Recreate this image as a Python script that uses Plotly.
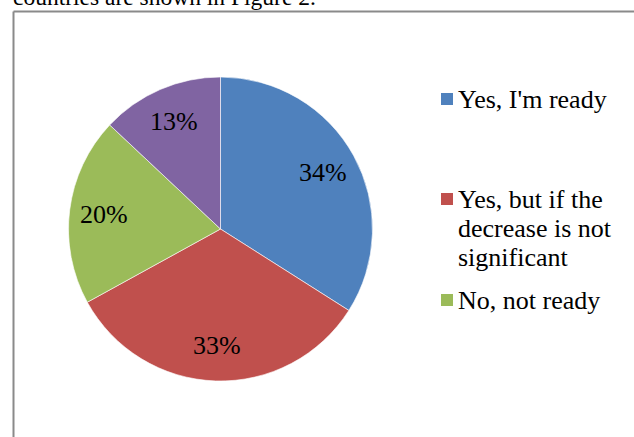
import math
import plotly.graph_objects as go

# ---- data ----
categories = ["Yes, I'm ready", "Yes, but if the decrease is not significant", "No, not ready", "Other"]
values = [34, 33, 20, 13]
colors = ["#4F81BD", "#C0504D", "#9BBB59", "#8064A2"]
legend_labels = ["Yes, I'm ready", "Yes, but if the<br>decrease is not<br>significant", "No, not ready"]
caption = "countries are shown in Figure 2."

# ---- style ----
W, H = 634, 437
FONT = "Liberation Serif, Times New Roman, serif"
FS = 26
cx, cy, r = 220.5, 229.0, 152.0
label_r = 0.77
legend_baselines = [107, 207, 308]
legend_line_gap = 29
marker_x0, marker_size = 441, 12
text_x = 457

def px_x(x):
    return x / W

def px_y(y):
    return 1 - y / H

fig = go.Figure()
fig.add_trace(go.Pie(
    labels=categories,
    values=values,
    sort=False,
    direction="clockwise",
    rotation=0,
    marker=dict(colors=colors, line=dict(color="rgba(255,255,255,0.6)", width=1)),
    textinfo="none",
    domain=dict(x=[px_x(cx - r), px_x(cx + r)], y=[px_y(cy + r), px_y(cy - r)]),
    showlegend=False,
    hoverinfo="label+percent",
))

shapes = [
    dict(type="line", xref="paper", yref="paper", x0=px_x(13.5), x1=px_x(13.5), y0=px_y(11.5), y1=px_y(H + 5),
         line=dict(color="#8a8a8a", width=2)),
    dict(type="line", xref="paper", yref="paper", x0=px_x(13.5), x1=px_x(W + 5), y0=px_y(11.5), y1=px_y(11.5),
         line=dict(color="#8a8a8a", width=2)),
]
annotations = [
    dict(text=caption, xref="paper", yref="paper", x=px_x(12), y=px_y(4 - 0.891 * 23.5),
         xanchor="left", yanchor="top", showarrow=False, borderpad=0,
         font=dict(family=FONT, size=23.5, color="black")),
]

# percentage labels placed along each slice's bisector
total = sum(values)
cum = 0
for v in values:
    mid = (cum + v / 2) / total * 2 * math.pi
    cum += v
    lx = cx + label_r * r * math.sin(mid)
    ly = cy - label_r * r * math.cos(mid)
    annotations.append(dict(text=f"{round(100 * v / total)}%", xref="paper", yref="paper",
                            x=px_x(lx), y=px_y(ly), xanchor="center", yanchor="middle",
                            showarrow=False, borderpad=0,
                            font=dict(family=FONT, size=FS, color="black")))

for i, lab in enumerate(legend_labels):
    base = legend_baselines[i]
    mc = base - 8
    shapes.append(dict(type="rect", xref="paper", yref="paper",
                       x0=px_x(marker_x0), x1=px_x(marker_x0 + marker_size),
                       y0=px_y(mc + marker_size / 2), y1=px_y(mc - marker_size / 2),
                       fillcolor=colors[i], line=dict(width=0)))
    for j, line in enumerate(lab.split("<br>")):
        b = base + j * legend_line_gap
        annotations.append(dict(text=line, xref="paper", yref="paper", x=px_x(text_x), y=px_y(b - 0.891 * FS),
                                xanchor="left", yanchor="top", showarrow=False, borderpad=0,
                                font=dict(family=FONT, size=FS, color="black")))

fig.update_layout(
    width=W, height=H,
    margin=dict(l=0, r=0, t=0, b=0),
    paper_bgcolor="white",
    plot_bgcolor="white",
    shapes=shapes,
    annotations=annotations,
)

fig.write_html("out.html", config={"displayModeBar": False},
               post_script="document.body.style.margin='0';")
